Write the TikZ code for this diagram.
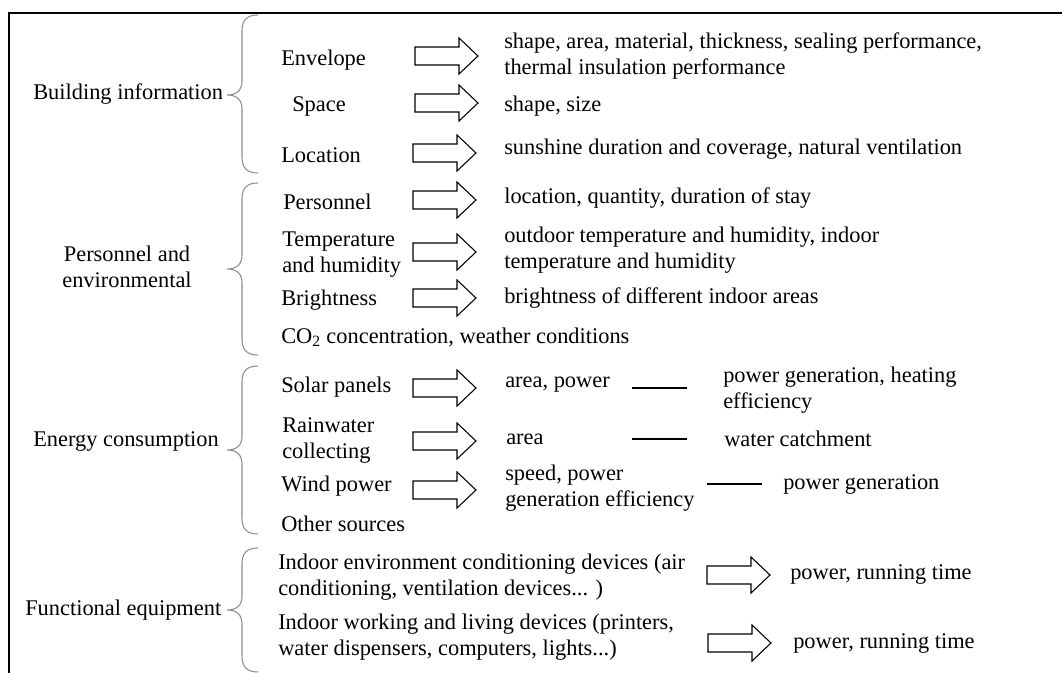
\documentclass[tikz,border=0pt]{standalone}
\usepackage{fontspec}
\setmainfont{Liberation Serif}
\usetikzlibrary{positioning}

% Coordinates are given in pixel-like units, y grows downwards
\tikzset{
  txt/.style={font=\fontsize{16.8}{19.5}\selectfont, inner sep=0pt, align=left, anchor=west},
  ctxt/.style={font=\fontsize{16.8}{19.5}\selectfont, inner sep=0pt, align=center},
  bracestroke/.style={draw=black!45, line width=0.8pt},
  frame/.style={line width=1.5pt},
  dashline/.style={line width=1.2pt},
  pics/blockarrow/.style={code={
    \draw[line width=0.8pt, line join=miter]
      (0,-9) -- (44,-9) -- (44,-18) -- (63,0) -- (44,18) -- (44,9) -- (0,9) -- cycle;}},
}

% curly brace: #1 top, #2 tip, #3 bottom (all y values)
\newcommand{\curlyb}[3]{%
  \draw[bracestroke] (258,#1) .. controls (247,#1) and (242,#1+5) .. (242,#1+16)
    -- (242,#2-14) .. controls (242,#2-5) and (237,#2) .. (227,#2)
    .. controls (237,#2) and (242,#2+5) .. (242,#2+14)
    -- (242,#3-16) .. controls (242,#3-5) and (247,#3) .. (258,#3);}

\begin{document}
\begin{tikzpicture}[x=0.75pt,y=-0.75pt]
\useasboundingbox (0,0) rectangle (1062,673);

% outer frame (top and left edges)
\draw[frame] (1062,13) -- (9,13) -- (9,673);

% group labels
\node[txt] (bldg) at (33,94) {Building information};
\node[ctxt] (pers) at (127,267) {Personnel and\\environmental};
\node[txt] (enrg) at (33,441) {Energy consumption};
\node[txt] (func) at (25,610) {Functional equipment};

% braces
\curlyb{15}{95}{173}
\curlyb{183}{269}{355}
\curlyb{366}{450}{534}
\curlyb{548}{610}{672}

% building information
\node[txt] (envl) at (281,60) {Envelope};
\node[txt] (spac) at (292,106) {Space};
\node[txt] (loca) at (281,155) {Location};
\pic at (415,56) {blockarrow};
\pic at (415,103) {blockarrow};
\pic at (413,153) {blockarrow};
\node[txt] (envlR) at (504,56) {shape, area, material, thickness, sealing performance,\\thermal insulation performance};
\node[txt] (spacR) at (504,106) {shape, size};
\node[txt] (locaR) at (504,149) {sunshine duration and coverage, natural ventilation};

% personnel and environmental
\node[txt] (prsn) at (283,202) {Personnel};
\node[txt] (temp) at (282,255) {Temperature\\and humidity};
\node[txt] (brgt) at (281,300) {Brightness};
\node[txt] (coco) at (281,337) {CO\textsubscript{2} concentration, weather conditions};
\pic at (413,200) {blockarrow};
\pic at (413,252) {blockarrow};
\pic at (413,298) {blockarrow};
\node[txt] (prsnR) at (504,198) {location, quantity, duration of stay};
\node[txt] (tempR) at (504,250) {outdoor temperature and humidity, indoor\\temperature and humidity};
\node[txt] (brgtR) at (504,298) {brightness of different indoor areas};

% energy consumption
\node[txt] (solr) at (281,387) {Solar panels};
\node[txt] (rain) at (282,440) {Rainwater\\collecting};
\node[txt] (wind) at (281,486) {Wind power};
\node[txt] (othr) at (281,524) {Other sources};
\pic at (413,388) {blockarrow};
\pic at (413,441) {blockarrow};
\pic at (413,490) {blockarrow};
\node[txt] (solrR) at (505,385) {area, power};
\node[txt] (rainR) at (506,439) {area};
\node[txt] (windR) at (505,488) {speed, power\\generation efficiency};
\node[txt] (solrS) at (723,390) {power generation, heating\\efficiency};
\node[txt] (rainS) at (724,439) {water catchment};
\node[txt] (windS) at (783,484) {power generation};
\draw[dashline] (632,388) -- (687,388);
\draw[dashline] (632,439) -- (687,439);
\draw[dashline] (707,484) -- (762,484);

% functional equipment
\node[txt] (cond) at (278,577) {Indoor environment conditioning devices (air\\conditioning, ventilation devices... )};
\node[txt] (devs) at (278,637) {Indoor working and living devices (printers,\\water dispensers, computers, lights...)};
\pic at (707,575) {blockarrow};
\pic at (708,643) {blockarrow};
\node[txt] (condR) at (790,574) {power, running time};
\node[txt] (devsR) at (793,643) {power, running time};
\end{tikzpicture}
\end{document}
